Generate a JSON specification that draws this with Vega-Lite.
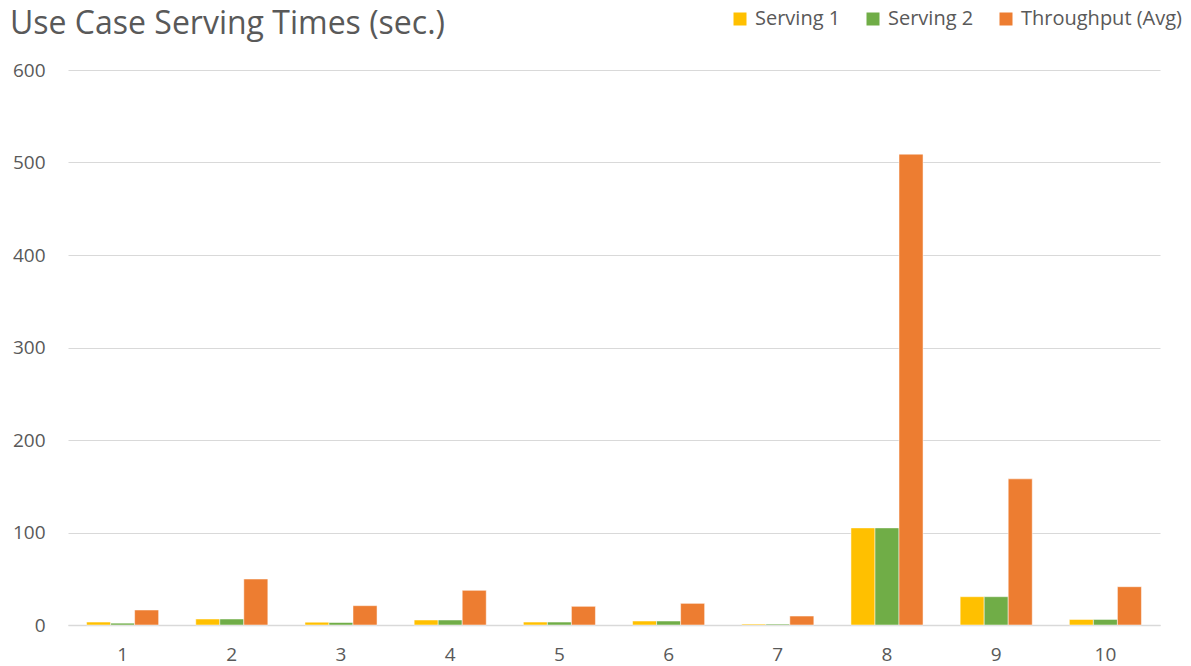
{
  "$schema": "https://vega.github.io/schema/vega-lite/v6.json",
  "width": 1092,
  "height": 555,
  "autosize": {"type": "none"},
  "padding": {"left": 68, "top": 70, "right": 31, "bottom": 41},
  "background": "white",
  "config": {
    "font": "Open Sans",
    "view": {"stroke": null}
  },
  "title": {
    "text": "Use Case Serving Times (sec.)",
    "anchor": "start",
    "frame": "group",
    "dx": -58,
    "dy": 36,
    "fontSize": 32,
    "fontWeight": "normal",
    "color": "#595959",
    "font": "Open Sans"
  },
  "data": {
    "values": [
      {"case": "1", "series": "Serving 1", "value": 3.2},
      {"case": "1", "series": "Serving 2", "value": 2.0},
      {"case": "1", "series": "Throughput (Avg)", "value": 16.2},
      {"case": "2", "series": "Serving 1", "value": 6.5},
      {"case": "2", "series": "Serving 2", "value": 6.5},
      {"case": "2", "series": "Throughput (Avg)", "value": 49.7},
      {"case": "3", "series": "Serving 1", "value": 3.0},
      {"case": "3", "series": "Serving 2", "value": 2.7},
      {"case": "3", "series": "Throughput (Avg)", "value": 20.9},
      {"case": "4", "series": "Serving 1", "value": 5.4},
      {"case": "4", "series": "Serving 2", "value": 5.4},
      {"case": "4", "series": "Throughput (Avg)", "value": 37.5},
      {"case": "5", "series": "Serving 1", "value": 3.2},
      {"case": "5", "series": "Serving 2", "value": 3.2},
      {"case": "5", "series": "Throughput (Avg)", "value": 20.2},
      {"case": "6", "series": "Serving 1", "value": 4.3},
      {"case": "6", "series": "Serving 2", "value": 4.3},
      {"case": "6", "series": "Throughput (Avg)", "value": 23.4},
      {"case": "7", "series": "Serving 1", "value": 1.0},
      {"case": "7", "series": "Serving 2", "value": 1.0},
      {"case": "7", "series": "Throughput (Avg)", "value": 9.7},
      {"case": "8", "series": "Serving 1", "value": 105},
      {"case": "8", "series": "Serving 2", "value": 105},
      {"case": "8", "series": "Throughput (Avg)", "value": 509},
      {"case": "9", "series": "Serving 1", "value": 30.6},
      {"case": "9", "series": "Serving 2", "value": 30.6},
      {"case": "9", "series": "Throughput (Avg)", "value": 158},
      {"case": "10", "series": "Serving 1", "value": 6.0},
      {"case": "10", "series": "Serving 2", "value": 6.0},
      {"case": "10", "series": "Throughput (Avg)", "value": 41.4}
    ]
  },
  "mark": {"type": "bar", "stroke": "white", "strokeWidth": 0.5},
  "encoding": {
    "x": {
      "field": "case",
      "type": "ordinal",
      "sort": null,
      "scale": {"paddingInner": 0.34, "paddingOuter": 0.17},
      "axis": {
        "title": null,
        "labelAngle": 0,
        "labelFontSize": 19,
        "labelColor": "#595959",
        "labelPadding": 20,
        "ticks": false,
        "domainColor": "#d9d9d9",
        "domainWidth": 1.5
      }
    },
    "xOffset": {"field": "series", "type": "nominal"},
    "y": {
      "field": "value",
      "type": "quantitative",
      "scale": {"domain": [0, 600]},
      "axis": {
        "title": null,
        "values": [0, 100, 200, 300, 400, 500, 600],
        "labelFontSize": 19,
        "labelColor": "#595959",
        "labelPadding": 23,
        "ticks": false,
        "domain": false,
        "gridColor": "#d9d9d9",
        "gridWidth": 1
      }
    },
    "color": {
      "field": "series",
      "type": "nominal",
      "scale": {
        "domain": ["Serving 1", "Serving 2", "Throughput (Avg)"],
        "range": ["#FFC000", "#70AD47", "#ED7D31"]
      },
      "legend": {
        "title": null,
        "orient": "none",
        "direction": "horizontal",
        "legendX": 662,
        "legendY": -61,
        "symbolType": "square",
        "symbolSize": 169,
        "symbolStrokeWidth": 0,
        "labelFontSize": 20,
        "labelColor": "#595959",
        "columnPadding": 22,
        "labelOffset": 5,
        "labelLimit": 300
      }
    }
  }
}
